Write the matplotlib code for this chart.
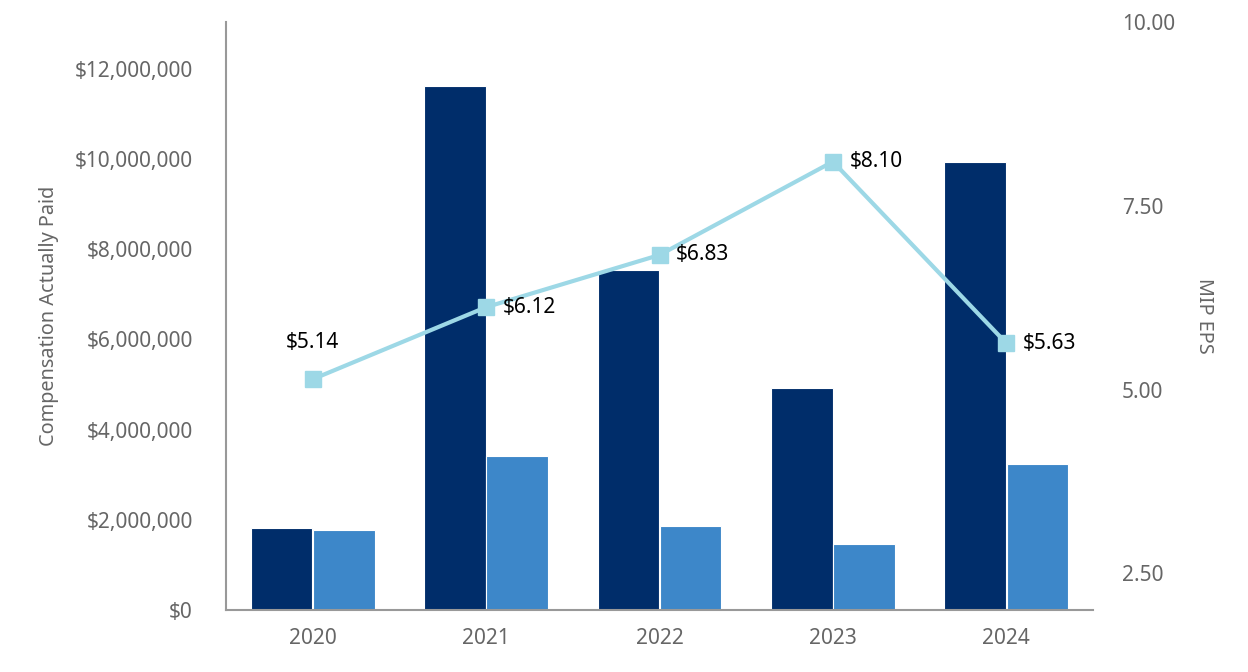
import matplotlib
matplotlib.use("Agg")
import matplotlib.pyplot as plt
import numpy as np
from matplotlib.ticker import FuncFormatter

years = ["2020", "2021", "2022", "2023", "2024"]
cap_peo = [1.82e6, 11.62e6, 7.54e6, 4.92e6, 9.94e6]
cap_neo = [1.77e6, 3.42e6, 1.86e6, 1.46e6, 3.24e6]
mip_eps = [5.14, 6.12, 6.83, 8.10, 5.63]
eps_labels = ["$5.14", "$6.12", "$6.83", "$8.10", "$5.63"]

plt.rcParams['font.family'] = ['Noto Sans', 'DejaVu Sans']

fig = plt.figure(figsize=(12.48, 6.72), dpi=100)
ax = fig.add_axes([226/1248, 1-610/672, (1093-226)/1248, (610-22)/672])
gray = "#666666"
x = np.arange(len(years))
w = 0.355
ax.bar(x - 0.179, cap_peo, width=w, color="#002d6a", edgecolor="white", linewidth=0.8, zorder=2)
ax.bar(x + 0.179, cap_neo, width=w, color="#3d87c9", edgecolor="white", linewidth=0.8, zorder=2)
ax.set_xlim(-0.5, 4.5)
ax.set_ylim(0, 13.04e6)
ax.set_yticks(np.arange(0, 12.1e6, 2e6))
ax.yaxis.set_major_formatter(FuncFormatter(lambda v, p: "${:,.0f}".format(v)))
ax.set_xticks(x)
ax.set_xticklabels(years)
ax.tick_params(axis='both', length=0, labelsize=15, colors=gray)
ax.tick_params(axis='y', pad=24)
ax.tick_params(axis='x', pad=13)
for s in ["top", "right"]:
    ax.spines[s].set_visible(False)
for s in ["left", "bottom"]:
    ax.spines[s].set_color("#999999")
    ax.spines[s].set_linewidth(1.5)
ax.set_ylabel("Compensation Actually Paid", fontsize=14.3, color=gray, labelpad=11)

ax2 = ax.twinx()
ax2.plot(x, mip_eps, color="#9dd8e6", linewidth=3, marker="s", markersize=11, zorder=3)
ax2.set_ylim(2.0, 10.0)
ax2.set_yticks([2.5, 5.0, 7.5, 10.0])
ax2.yaxis.set_major_formatter(FuncFormatter(lambda v, p: "{:.2f}".format(v)))
ax2.tick_params(axis='y', length=0, labelsize=15, colors=gray, pad=21)
for s in ["top", "right", "left", "bottom"]:
    ax2.spines[s].set_visible(False)
ax2.set_ylabel("MIP EPS", fontsize=14.3, color=gray, rotation=270, labelpad=28)

for i, (v, lab) in enumerate(zip(mip_eps, eps_labels)):
    if i == 0:
        ax2.annotate(lab, (i, v), xytext=(0, 19), textcoords="offset points",
                     ha="center", va="bottom", fontsize=15, color="black")
    else:
        ax2.annotate(lab, (i, v), xytext=(12, 0), textcoords="offset points",
                     ha="left", va="center", fontsize=15, color="black")

fig.savefig("out.png", dpi=100)
